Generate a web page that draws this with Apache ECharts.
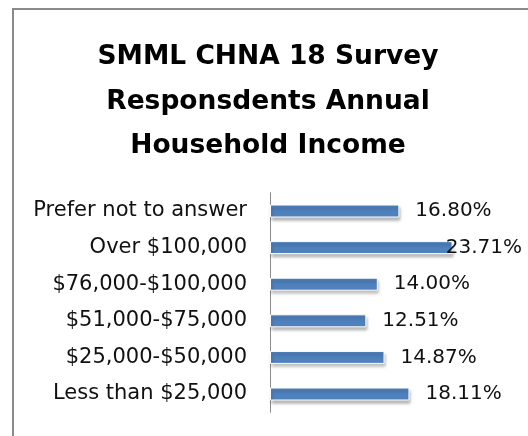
<!DOCTYPE html>
<html>
<head>
<meta charset="utf-8">
<script src="https://cdn.jsdelivr.net/npm/echarts@6/dist/echarts.min.js"></script>
<style>
  html, body { margin: 0; padding: 0; background: #fff; }
  #chart { width: 528px; height: 436px; }
</style>
</head>
<body>
<div id="chart"></div>
<script>
const titleText = 'SMML CHNA 18 Survey\nResponsdents Annual\nHousehold Income';
const categories = [
  'Prefer not to answer',
  'Over $100,000',
  '$76,000-$100,000',
  '$51,000-$75,000',
  '$25,000-$50,000',
  'Less than $25,000'
];
const percents = [16.80, 23.71, 14.00, 12.51, 14.87, 18.11];

const chart = echarts.init(document.getElementById('chart'));

const option = {
  animation: false,
  textStyle: {fontFamily: 'DejaVu Sans'},
  title: {
    text: titleText,
    left: 263,
    top: 30,
    textAlign: 'center',
    textStyle: {
      fontFamily: 'DejaVu Sans',
      fontWeight: 'bold',
      fontSize: 26.5,
      lineHeight: 44.5,
      color: '#000'
    }
  },
  graphic: [
    {
      type: 'rect',
      shape: {x: 13, y: 9, width: 700, height: 700},
      style: {fill: 'none', stroke: '#8a8a8a', lineWidth: 2},
      silent: true
    }
  ],
  grid: {
    left: 270,
    right: 65.5,
    top: 192.7,
    bottom: 23.7,
    containLabel: false
  },
  xAxis: {
    type: 'value',
    min: 0,
    max: 25,
    show: false,
    splitLine: {show: false}
  },
  yAxis: {
    type: 'category',
    data: categories,
    inverse: true,
    axisLine: {show: true, lineStyle: {color: '#8c8c8c', width: 1}},
    axisTick: {show: false},
    axisLabel: {
      fontFamily: 'DejaVu Sans',
      fontSize: 21,
      color: '#111',
      margin: 23
    }
  },
  series: [
    {
      type: 'bar',
      data: percents,
      barWidth: 13,
      itemStyle: {
        color: '#4f81bd',
        borderColor: '#ffffff',
        borderWidth: 1,
        shadowColor: 'rgba(0,0,0,0.3)',
        shadowBlur: 3,
        shadowOffsetX: 1,
        shadowOffsetY: 3
      },
      label: {
        show: true,
        position: 'right',
        distance: 16,
        offset: [0, 2],
        fontFamily: 'DejaVu Sans',
        fontSize: 20,
        color: '#111',
        formatter: p => p.value.toFixed(2) + '%'
      },
      labelLayout: function (p) {
        const over = p.labelRect.x + p.labelRect.width - 522;
        return over > 0 ? {dx: -over} : {};
      }
    }
  ]
};

chart.setOption(option);
</script>
</body>
</html>
